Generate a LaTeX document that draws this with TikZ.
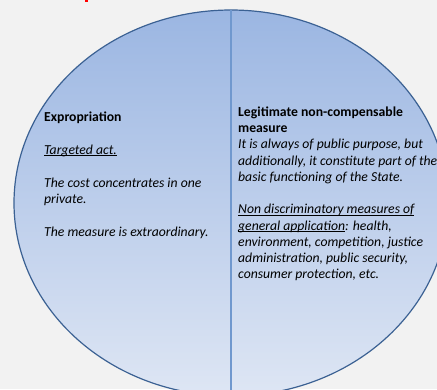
\documentclass[tikz,border=0pt]{standalone}
\usepackage{fontspec}
\setmainfont{Carlito}
\newcommand\myul[1]{\setbox0\hbox{#1}\rlap{\vrule height -1.3pt depth 2.3pt width \wd0}\box0}
\begin{document}
\begin{tikzpicture}[x=1pt,y=-1pt,
  txt/.style={anchor=base west,inner sep=0pt,font=\fontsize{13.7}{16}\selectfont},
  hd/.style={txt,font=\fontsize{13.7}{16}\selectfont\bfseries},
  it/.style={txt,font=\fontsize{13.7}{16}\selectfont\itshape}]
\definecolor{bg}{HTML}{F2F2F2}
\definecolor{topc}{HTML}{9BB6E2}
\definecolor{botc}{HTML}{DEE6F4}
\definecolor{edge}{HTML}{3B6193}
\definecolor{divc}{HTML}{7098CE}
\useasboundingbox (0,0) rectangle (437,389);
\clip (0,0) rectangle (437,389);
\fill[bg] (0,0) rectangle (437,389);
\fill[red] (85,0) rectangle (88,2);
\shade[top color=topc,bottom color=botc,draw=edge,line width=1.2pt]
  (231,203) ellipse [x radius=217,y radius=193];
\coordinate (dtop) at (231,10);
\coordinate (dbot) at (231,396);
\draw[divc,line width=1.3pt] (dtop) -- (dbot);
% left column
\node[hd] (a1) at (44,121) {Expropriation};
\node[it] (a2) at (44,154) {\myul{Targeted act.}};
\node[it] (a3) at (44,187) {The cost concentrates in one};
\node[it] (a4) at (44,203) {private.};
\node[it] (a5) at (44,236.5) {The measure is extraordinary.};
% right column
\node[hd] (b1) at (238,116) {Legitimate non-compensable};
\node[hd] (b2) at (238,132.3) {measure};
\node[it] (b3) at (238,148.6) {It is always of public purpose, but};
\node[it] (b4) at (238,165) {additionally, it constitute part of the};
\node[it] (b5) at (238,181.3) {basic functioning of the State.};
\node[it] (b6) at (238,213.6) {\myul{Non discriminatory measures of}};
\node[it] (b7) at (238,230) {\myul{general application}: health,};
\node[it] (b8) at (238,246.2) {environment, competition, justice};
\node[it] (b9) at (238,262.5) {administration, public security,};
\node[it] (b10) at (238,278.8) {consumer protection, etc.};
\end{tikzpicture}
\end{document}
